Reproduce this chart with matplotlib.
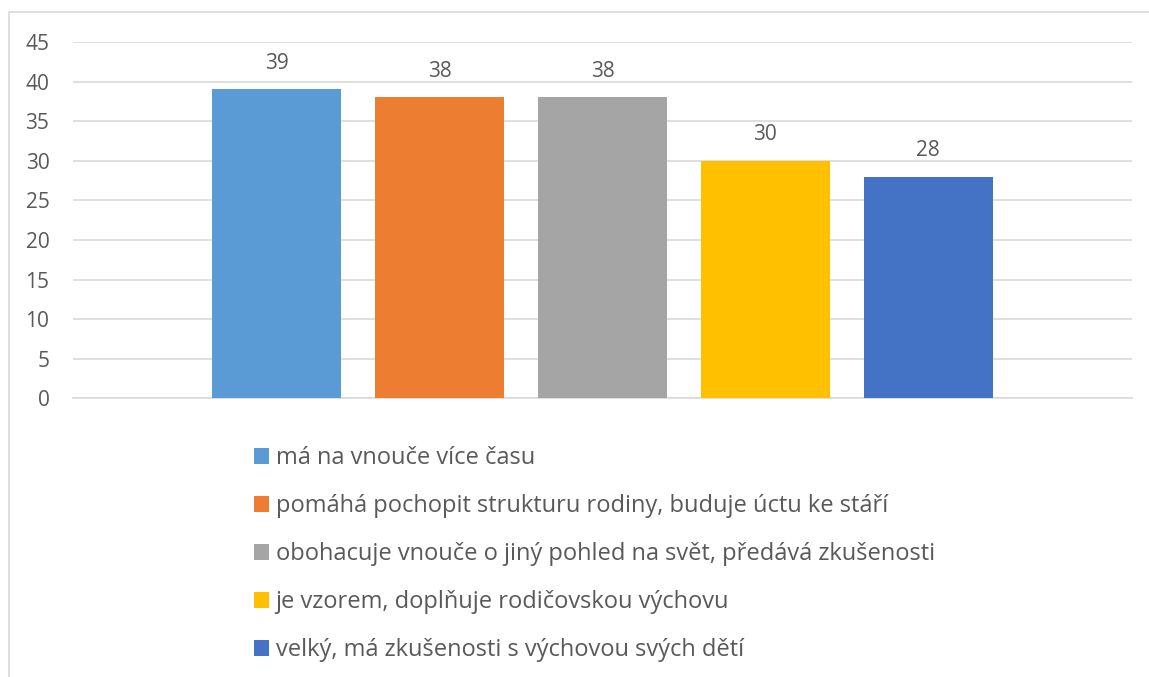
import matplotlib.pyplot as plt
from matplotlib.patches import Rectangle

labels = [
    "má na vnouče více času",
    "pomáhá pochopit strukturu rodiny, buduje úctu ke stáří",
    "obohacuje vnouče o jiný pohled na svět, předává zkušenosti",
    "je vzorem, doplňuje rodičovskou výchovu",
    "velký, má zkušenosti s výchovou svých dětí",
]
values = [39, 38, 38, 30, 28]
colors = ["#5B9BD5", "#ED7D31", "#A5A5A5", "#FFC000", "#4472C4"]
yticks = [0, 5, 10, 15, 20, 25, 30, 35, 40, 45]

plt.rcParams['font.family'] = ['Open Sans', 'DejaVu Sans']
text_color = "#595959"
grid_color = "#D9D9D9"

W, H = 1149, 677
fig = plt.figure(figsize=(W / 100, H / 100), dpi=100)

# outer chart border (only top/left visible in the crop)
fig.patches.append(Rectangle((9 / W, -0.1), 1.2, 1 - 12 / H + 0.1,
                             transform=fig.transFigure, fill=False,
                             edgecolor=grid_color, linewidth=1.2))

ax = fig.add_axes([73 / W, 1 - 398.3 / H, (1132 - 73) / W, (398.3 - 41.9) / H])

bars = []
for i, (lab, v, c) in enumerate(zip(labels, values, colors)):
    b = ax.bar(i, v, width=0.79, color=c, label=lab, zorder=3)
    ax.bar_label(b, padding=11, fontsize=15, color=text_color)
    bars.append(b)

ax.set_xlim(-1.25, 5.25)
ax.set_ylim(0, 45)
ax.set_yticks(yticks)
ax.set_xticks([])
ax.tick_params(axis='y', length=0, labelsize=15, labelcolor=text_color, pad=17)
ax.grid(axis='y', color=grid_color, linewidth=1.2, zorder=0)
for s in ['top', 'right', 'left']:
    ax.spines[s].set_visible(False)
ax.spines['bottom'].set_color(grid_color)
ax.spines['bottom'].set_linewidth(1.2)

fig.legend(handles=bars, labels=labels, loc='upper left',
           bbox_to_anchor=(254 / W, 1 - 446 / H), frameon=False,
           fontsize=17, labelcolor=text_color, handlelength=0.64,
           handleheight=0.64, handletextpad=0.28, labelspacing=1.02,
           borderaxespad=0, borderpad=0)

fig.savefig("out.png", dpi=100)
